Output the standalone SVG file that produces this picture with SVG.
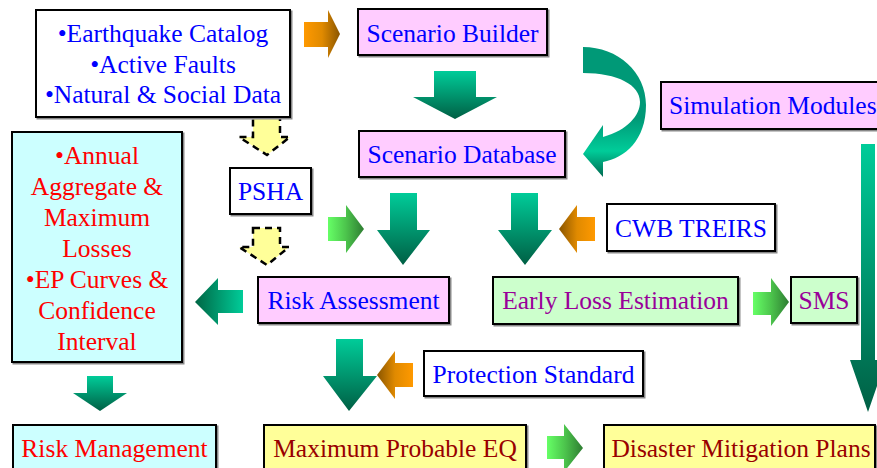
<svg xmlns="http://www.w3.org/2000/svg" width="877" height="468" viewBox="0 0 877 468">
<defs>
<linearGradient id="gDown" x1="0" y1="0" x2="0" y2="1"><stop offset="0" stop-color="#00cc99"/><stop offset="1" stop-color="#005f44"/></linearGradient>
<linearGradient id="gLeft" x1="0" y1="0" x2="1" y2="0"><stop offset="0" stop-color="#006644"/><stop offset="1" stop-color="#00cc99"/></linearGradient>
<linearGradient id="gOrR" x1="0" y1="0" x2="1" y2="0"><stop offset="0" stop-color="#ff9900"/><stop offset="0.5" stop-color="#e08a00"/><stop offset="1" stop-color="#8a5500"/></linearGradient>
<linearGradient id="gOrL" x1="0" y1="0" x2="1" y2="0"><stop offset="0" stop-color="#8a5500"/><stop offset="0.5" stop-color="#e08a00"/><stop offset="1" stop-color="#ff9900"/></linearGradient>
<linearGradient id="gGrR" x1="0" y1="0" x2="1" y2="0"><stop offset="0" stop-color="#66ff66"/><stop offset="0.5" stop-color="#4cc44c"/><stop offset="1" stop-color="#2e7d32"/></linearGradient>
<linearGradient id="gCurve" x1="0" y1="0" x2="0" y2="1"><stop offset="0" stop-color="#009977"/><stop offset="0.55" stop-color="#009977"/><stop offset="0.8" stop-color="#00cc99"/><stop offset="1" stop-color="#006a50"/></linearGradient>
<filter id="sh" x="-5%" y="-5%" width="110%" height="115%"><feDropShadow dx="1.5" dy="1.5" stdDeviation="0.6" flood-color="#888888"/></filter>
</defs>
<style>
.box{stroke:#000;stroke-width:2;filter:url(#sh)}
.w{fill:#ffffff}.pk{fill:#ffccff}.cy{fill:#ccffff}.lg{fill:#ccffcc}.yl{fill:#ffff99}
text{font-family:"Liberation Serif","Times New Roman",serif;font-size:25.5px;text-anchor:middle}
.b{fill:#0000ff}.r{fill:#ff0000}.p{fill:#990099}.dr{fill:#990000}
.dash{fill:#ffff99;stroke:#000;stroke-width:2.5;stroke-dasharray:7,5}
</style>
<rect width="877" height="468" fill="#ffffff"/>

<g id="connectors">
<polygon points="304,22 328,22 328,10 340,34 328,58 328,47 304,47" fill="url(#gOrR)"/>
<polygon points="434,71 476,71 476,97 497,97 455,119 413,97 434,97" fill="url(#gDown)"/>
<path d="M583,47 C618,47 646,72 646,105 C646,140 625,158 603,162 L603,177 L583,154 L603,125 L603,137 C628,130 640,115 640,102 C640,85 618,73 583,73 Z" fill="url(#gCurve)"/>
<polygon points="861,144 875,144 875,360 886,360 868,412 850,360 861,360" fill="url(#gDown)"/>
<polygon points="253,117 280,117 280,137 290,137 267,155 239,137 253,137" class="dash"/>
<polygon points="253,228 280,228 280,247 289,247 267,265 239,247 253,247" class="dash"/>
<polygon points="328,217 346,217 346,205 364,229 346,253 346,241 328,241" fill="url(#gGrR)"/>
<polygon points="390,193 417,193 417,230 430,230 403,265 377,230 390,230" fill="url(#gDown)"/>
<polygon points="511,193 538,193 538,230 552,230 525,265 498,230 511,230" fill="url(#gDown)"/>
<polygon points="595,217 577,217 577,205 559,229 577,253 577,241 595,241" fill="url(#gOrL)"/>
<polygon points="243,290 218,290 218,278 195,302 218,325 218,313 243,313" fill="url(#gLeft)"/>
<polygon points="753,292 771,292 771,278 789,302 771,326 771,315 753,315" fill="url(#gGrR)"/>
<polygon points="87,376 113,376 113,393 127,393 100,411 73,393 87,393" fill="url(#gDown)"/>
<polygon points="336,339 363,339 363,376 377,376 349,411 323,376 336,376" fill="url(#gDown)"/>
<polygon points="413,363 395,363 395,351 377,375 395,399 395,387 413,387" fill="url(#gOrL)"/>
<polygon points="547,436 564,436 564,424 583,448 564,472 564,459 547,459" fill="url(#gGrR)"/>
</g>

<g id="data-sources">
<rect class="box w" x="36" y="10" width="254" height="107"/>
<text class="b" x="163" y="42">•Earthquake Catalog</text>
<text class="b" x="163" y="73">•Active Faults</text>
<text class="b" x="163" y="103">•Natural &amp; Social Data</text>
</g>
<g id="scenario-builder">
<rect class="box pk" x="358" y="9" width="189" height="46"/>
<text class="b" x="452.5" y="42">Scenario Builder</text>
</g>
<g id="scenario-database">
<rect class="box pk" x="359" y="131" width="206" height="46"/>
<text class="b" x="462" y="163">Scenario Database</text>
</g>
<g id="simulation-modules">
<rect class="box pk" x="661" y="82" width="230" height="47"/>
<text class="b" x="669" y="114" style="text-anchor:start">Simulation Modules</text>
</g>
<g id="psha">
<rect class="box w" x="230" y="168" width="81" height="46"/>
<text class="b" x="270.5" y="200">PSHA</text>
</g>
<g id="cwb-treirs">
<rect class="box w" x="607" y="204" width="168" height="47"/>
<text class="b" x="691" y="237">CWB TREIRS</text>
</g>
<g id="losses">
<rect class="box cy" x="12" y="132" width="170" height="230"/>
<text class="r" x="97" y="164">•Annual</text>
<text class="r" x="97" y="195">Aggregate &amp;</text>
<text class="r" x="97" y="226">Maximum</text>
<text class="r" x="97" y="257">Losses</text>
<text class="r" x="97" y="288">•EP Curves &amp;</text>
<text class="r" x="97" y="319">Confidence</text>
<text class="r" x="97" y="350">Interval</text>
</g>
<g id="risk-assessment">
<rect class="box pk" x="258" y="277" width="191" height="46"/>
<text class="b" x="353.5" y="309">Risk Assessment</text>
</g>
<g id="early-loss-estimation">
<rect class="box lg" x="493" y="277" width="245" height="47"/>
<text class="p" x="615.5" y="309">Early Loss Estimation</text>
</g>
<g id="sms">
<rect class="box lg" x="791" y="277" width="66" height="46"/>
<text class="p" x="824" y="309">SMS</text>
</g>
<g id="protection-standard">
<rect class="box w" x="424" y="351" width="219" height="45"/>
<text class="b" x="533.5" y="383">Protection Standard</text>
</g>
<g id="risk-management">
<rect class="box cy" x="13" y="425" width="203" height="55"/>
<text class="r" x="114.5" y="457">Risk Management</text>
</g>
<g id="maximum-probable-eq">
<rect class="box yl" x="264" y="425" width="262" height="55"/>
<text class="dr" x="395" y="457">Maximum Probable EQ</text>
</g>
<g id="disaster-mitigation-plans">
<rect class="box yl" x="604" y="425" width="271" height="55"/>
<text class="dr" x="741" y="457">Disaster Mitigation Plans</text>
</g>
</svg>
